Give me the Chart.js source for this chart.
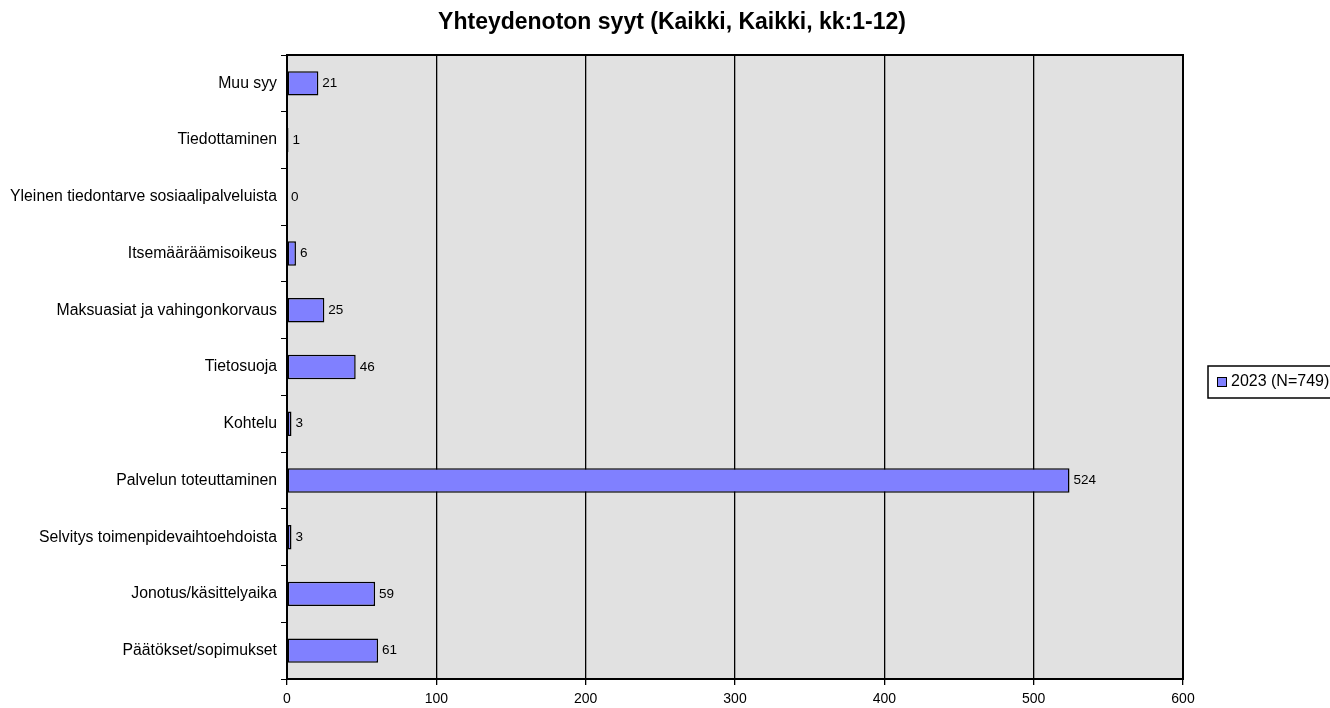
<!DOCTYPE html>
<html>
<head>
<meta charset="utf-8">
<script src="https://cdn.jsdelivr.net/npm/chart.js@4"></script>
<style>
  body { margin: 0; background: #fff; }
  #wrap { width: 1330px; height: 708px; position: relative; }
</style>
</head>
<body>
<div id="wrap"><canvas id="chart"></canvas></div>
<script>
// Data
const categories = [
    'Muu syy',
    'Tiedottaminen',
    'Yleinen tiedontarve sosiaalipalveluista',
    'Itsemääräämisoikeus',
    'Maksuasiat ja vahingonkorvaus',
    'Tietosuoja',
    'Kohtelu',
    'Palvelun toteuttaminen',
    'Selvitys toimenpidevaihtoehdoista',
    'Jonotus/käsittelyaika',
    'Päätökset/sopimukset'
];
const values2023 = [21, 1, 0, 6, 25, 46, 3, 524, 3, 59, 61];
const seriesLabel = '2023 (N=749)';
const chartTitle = 'Yhteydenoton syyt (Kaikki, Kaikki, kk:1-12)';

const FONT = 'Arial, "Liberation Sans", sans-serif';
const BAR_COLOR = '#8080ff';

// Grey plot background and the black frame round it
const plotFrame = {
    id: 'plotFrame',
    beforeDraw(chart) {
        const { ctx, chartArea: a } = chart;
        ctx.save();
        ctx.fillStyle = '#e1e1e1';
        ctx.fillRect(a.left, a.top, a.right - a.left, a.bottom - a.top);
        ctx.restore();
    },
    afterDraw(chart) {
        const { ctx, chartArea: a } = chart;
        ctx.save();
        ctx.strokeStyle = '#000';
        ctx.lineWidth = 2;
        ctx.strokeRect(a.left, a.top, a.right - a.left, a.bottom - a.top);
        ctx.restore();
    }
};

// Title, centred a bit right of the canvas middle like the original
const titleText = {
    id: 'titleText',
    afterDraw(chart) {
        const { ctx } = chart;
        ctx.save();
        ctx.font = 'bold 23px ' + FONT;
        ctx.fillStyle = '#000';
        ctx.textAlign = 'center';
        ctx.textBaseline = 'middle';
        ctx.fillText(chartTitle, 672, 23);
        ctx.restore();
    }
};

// Value labels at the end of each bar
const valueLabels = {
    id: 'valueLabels',
    afterDatasetsDraw(chart) {
        const { ctx } = chart;
        const meta = chart.getDatasetMeta(0);
        ctx.save();
        ctx.font = '13.5px ' + FONT;
        ctx.fillStyle = '#000';
        ctx.textBaseline = 'middle';
        ctx.textAlign = 'left';
        meta.data.forEach((bar, i) => {
            ctx.fillText(String(values2023[i]), bar.x + 4, bar.y);
        });
        ctx.restore();
    }
};

// Legend box on the right, partly cut by the edge like the original
const sideLegend = {
    id: 'sideLegend',
    afterDraw(chart) {
        const { ctx } = chart;
        const x = 1208, y = 366, h = 32;
        ctx.save();
        ctx.fillStyle = '#fff';
        ctx.fillRect(x, y, 140, h);
        ctx.strokeStyle = '#000';
        ctx.lineWidth = 1.5;
        ctx.strokeRect(x, y, 140, h);
        ctx.fillStyle = BAR_COLOR;
        ctx.fillRect(x + 9, y + 11, 10, 10);
        ctx.lineWidth = 1;
        ctx.strokeRect(x + 9.5, y + 11.5, 9, 9);
        ctx.fillStyle = '#000';
        ctx.font = '16px ' + FONT;
        ctx.textBaseline = 'middle';
        ctx.fillText(seriesLabel, x + 23, y + 16);
        ctx.restore();
    }
};

new Chart(document.getElementById('chart'), {
    type: 'bar',
    data: {
        labels: categories,
        datasets: [{
            label: seriesLabel,
            data: values2023,
            backgroundColor: BAR_COLOR,
            borderColor: '#000',
            borderWidth: 1.5,
            borderSkipped: false,
            barPercentage: 0.43,
            categoryPercentage: 1
        }]
    },
    options: {
        indexAxis: 'y',
        responsive: true,
        maintainAspectRatio: false,
        animation: false,
        layout: { padding: { left: 0, right: 147, top: 55, bottom: 0 } },
        plugins: {
            legend: { display: false },
            tooltip: { enabled: false },
            title: { display: false }
        },
        scales: {
            x: {
                min: 0,
                max: 600,
                ticks: {
                    stepSize: 100,
                    color: '#000',
                    font: { family: FONT, size: 14 },
                    padding: 6
                },
                grid: {
                    color: '#000',
                    lineWidth: 1.3,
                    tickLength: 6,
                    tickColor: '#000'
                },
                border: { display: true, color: '#000', width: 2 },
                afterFit(scale) { scale.height = 29; }
            },
            y: {
                ticks: {
                    color: '#000',
                    font: { family: FONT, size: 15.8 },
                    padding: 4
                },
                grid: {
                    offset: true,
                    drawOnChartArea: false,
                    color: '#000',
                    tickLength: 6
                },
                border: { display: true, color: '#000', width: 2 },
                afterFit(scale) { scale.width = 287; }
            }
        }
    },
    plugins: [plotFrame, valueLabels, sideLegend, titleText]
});
</script>
</body>
</html>
